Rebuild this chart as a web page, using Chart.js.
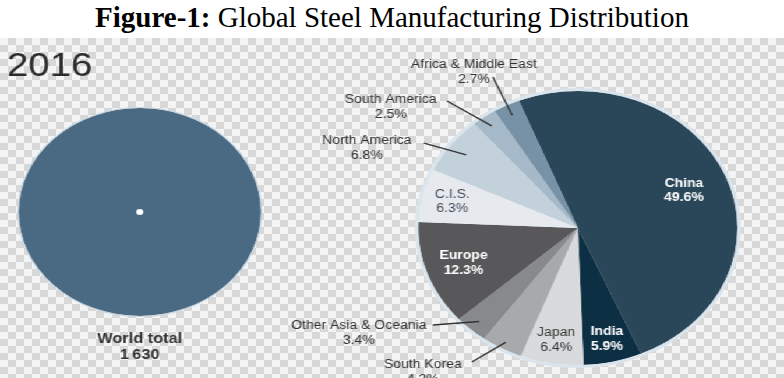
<!DOCTYPE html>
<html>
<head>
<meta charset="utf-8">
<script src="https://cdn.jsdelivr.net/npm/chart.js@4.4.0/dist/chart.umd.min.js"></script>
<style>
  html, body { margin: 0; padding: 0; background: #fff; }
  body { width: 784px; height: 378px; position: relative; overflow: hidden; }
  #title {
    position: absolute; left: 0; top: 1px; width: 784px; text-align: center;
    font-family: "Liberation Serif", "Times New Roman", serif; font-size: 29px; color: #000;
  }
  #checker {
    position: absolute; left: 0; top: 38px; width: 784px; height: 340px;
    background: repeating-conic-gradient(#d8d8d8 0 25%, #f4f4f4 0 50%) 0 0 / 16px 14px;
  }
  /* the whole picture is stretched sideways, so draw narrow and scale */
  #stage { position: absolute; left: 0; top: 0; width: 673px; height: 378px; transform: scaleX(1.165); transform-origin: 0 0; }
  #stage canvas { position: absolute; left: 0; top: 0; }
</style>
</head>
<body>
<div id="title"><b>Figure-1:</b> Global Steel Manufacturing Distribution</div>
<div id="checker"></div>
<div id="stage">
  <canvas id="worldChart" width="673" height="378"></canvas>
  <canvas id="regionChart" width="673" height="378"></canvas>
</div>
<script>
// data
const yearLabel = '2016';
const worldLabels = ['World total', '1\u202F630'];
const worldTotal = [1630];
const regions = ['China', 'India', 'Japan', 'South Korea', 'Other Asia & Oceania',
                 'Europe', 'C.I.S.', 'North America', 'South America', 'Africa & Middle East'];
const shares = [49.6, 5.9, 6.4, 4.2, 3.4, 12.3, 6.3, 6.8, 2.5, 2.7];

const regionColors = ['#2a4759', '#0d2f44', '#d8dadc', '#a7a9ab', '#87898b',
                      '#58585b', '#e6eaee', '#c3d1db', '#a6b9c8', '#7792a6'];

// label placement, in units of the pie radius
// inside: distance along the middle of the slice
// outside: text centre and leader start from the pie centre, tip = leader end along the slice middle
const labelLayout = [
  {inside: 0.72, color: '#ffffff', bold: true},
  {inside: 0.83, color: '#ffffff', bold: true},
  {inside: 0.83, color: '#363636'},
  {text: [-0.971, 1.051], from: [-0.664, 0.978], tip: 0.95},
  {text: [-1.372, 0.766], from: [-0.908, 0.708], tip: 0.92},
  {inside: 0.76, color: '#ffffff', bold: true},
  {inside: 0.81, color: '#424758'},
  {text: [-1.322, -0.584], from: [-0.964, -0.620], tip: 0.88},
  {text: [-1.172, -0.883], from: [-0.820, -0.927], tip: 0.92},
  {text: [-0.651, -1.139], from: [-0.532, -1.102], tip: 0.92}
];

const FONT = '"Liberation Sans", Arial, sans-serif';

const regionLabels = {
  id: 'regionLabels',
  afterDatasetsDraw(chart) {
    const ctx = chart.ctx;
    const arcs = chart.getDatasetMeta(0).data;
    const cx = arcs[0].x, cy = arcs[0].y, R = arcs[0].outerRadius;
    ctx.save();
    // pale rim round the pie
    ctx.beginPath();
    ctx.arc(cx, cy, R + 1.5, 0, Math.PI * 2);
    ctx.strokeStyle = '#d9e4ec';
    ctx.lineWidth = 3;
    ctx.stroke();

    ctx.textAlign = 'center';
    ctx.textBaseline = 'middle';
    arcs.forEach((arc, i) => {
      const mid = (arc.startAngle + arc.endAngle) / 2;
      const lay = labelLayout[i];
      let tx, ty;
      if (lay.inside) {
        tx = cx + Math.cos(mid) * R * lay.inside;
        ty = cy + Math.sin(mid) * R * lay.inside;
        ctx.font = (lay.bold ? 'bold ' : '') + '12px ' + FONT;
        ctx.fillStyle = lay.color;
      } else {
        ctx.beginPath();
        ctx.moveTo(cx + lay.from[0] * R, cy + lay.from[1] * R);
        ctx.lineTo(cx + Math.cos(mid) * R * lay.tip, cy + Math.sin(mid) * R * lay.tip);
        ctx.strokeStyle = '#333333';
        ctx.lineWidth = 1.4;
        ctx.stroke();
        tx = cx + lay.text[0] * R;
        ty = cy + lay.text[1] * R;
        ctx.font = '12px ' + FONT;
        ctx.fillStyle = '#303030';
      }
      ctx.fillText(regions[i], tx, ty - 7);
      ctx.fillText(shares[i].toFixed(1) + '%', tx, ty + 7.5);
    });
    ctx.restore();
  }
};

const worldLabelsPlugin = {
  id: 'worldLabels',
  afterDatasetsDraw(chart) {
    const ctx = chart.ctx;
    const arc = chart.getDatasetMeta(0).data[0];
    ctx.save();
    ctx.beginPath();
    ctx.arc(arc.x, arc.y, arc.outerRadius + 0.5, 0, Math.PI * 2);
    ctx.strokeStyle = '#c9d7e1';
    ctx.lineWidth = 1.2;
    ctx.stroke();
    // white dot in the middle
    ctx.beginPath();
    ctx.arc(arc.x, arc.y, 3, 0, Math.PI * 2);
    ctx.fillStyle = '#ffffff';
    ctx.fill();

    ctx.fillStyle = '#333333';
    ctx.textAlign = 'center';
    ctx.textBaseline = 'middle';
    ctx.font = 'bold 14px ' + FONT;
    ctx.fillText(worldLabels[0], arc.x, arc.y + arc.outerRadius + 23);
    ctx.fillText(worldLabels[1], arc.x, arc.y + arc.outerRadius + 39);

    ctx.textAlign = 'left';
    ctx.textBaseline = 'alphabetic';
    ctx.font = '33px ' + FONT;
    ctx.fillStyle = '#2b2b2b';
    ctx.fillText(yearLabel, 6, 76);
    ctx.restore();
  }
};

new Chart(document.getElementById('worldChart'), {
  type: 'pie',
  data: {
    labels: ['World total'],
    datasets: [{
      data: worldTotal,
      backgroundColor: ['#4a6a83'],
      borderWidth: 0,
      hoverOffset: 0
    }]
  },
  options: {
    responsive: false,
    animation: false,
    events: [],
    layout: { padding: { left: 16, right: 449, top: 108, bottom: 62 } },
    plugins: { legend: { display: false }, tooltip: { enabled: false } }
  },
  plugins: [worldLabelsPlugin]
});

new Chart(document.getElementById('regionChart'), {
  type: 'pie',
  data: {
    labels: regions,
    datasets: [{
      data: shares,
      backgroundColor: regionColors,
      borderWidth: 0,
      hoverOffset: 0
    }]
  },
  options: {
    responsive: false,
    animation: false,
    events: [],
    rotation: -21.7,
    layout: { padding: { left: 359, right: 40, top: 91, bottom: 13 } },
    plugins: { legend: { display: false }, tooltip: { enabled: false } }
  },
  plugins: [regionLabels]
});
</script>
</body>
</html>
